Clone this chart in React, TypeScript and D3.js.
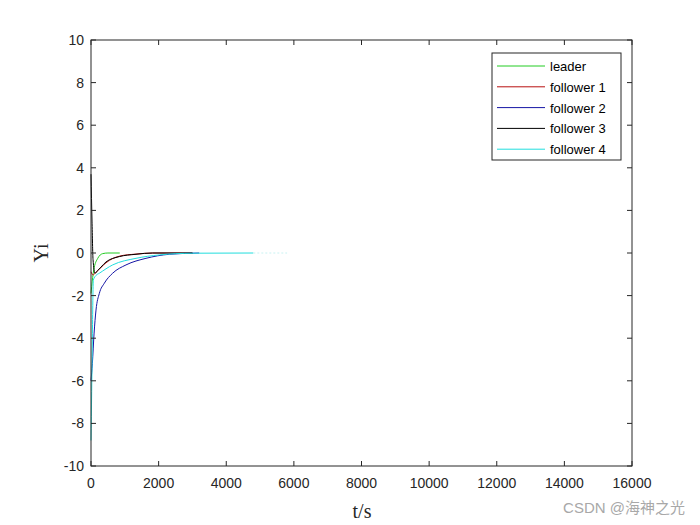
import React from "react";
import * as d3 from "d3";

const xTicks = [0, 2000, 4000, 6000, 8000, 10000, 12000, 14000, 16000];
const yTicks = [-10, -8, -6, -4, -2, 0, 2, 4, 6, 8, 10];

const leaderT = [0, 20, 80, 200, 345, 500, 850];
const leaderY = [-1.9, -1.58, -0.8, -0.25, -0.03, 0, 0];

const f1T = [0, 60, 150, 296, 444, 837, 1331, 1825, 3000];
const f1Y = [-0.88, -1.03, -0.9, -0.68, -0.46, -0.15, -0.05, 0, 0];

const f2T = [0, 40, 90, 148, 246, 394, 640, 1035, 1626, 2316, 3200];
const f2Y = [-6.0, -5.2, -3.8, -2.68, -1.9, -1.42, -0.95, -0.56, -0.25, -0.06, 0];

const f3T = [0, 30, 60, 118, 200, 296, 444, 837, 1331, 1825, 3000];
const f3Y = [3.7, 1.5, -0.3, -0.95, -0.82, -0.66, -0.42, -0.17, -0.06, 0, 0];

const f4T = [0, 20, 40, 69, 150, 246, 640, 1331, 2020, 3000, 4800];
const f4Y = [-8.8, -6.5, -4, -1.27, -1.05, -0.95, -0.56, -0.25, -0.09, -0.01, 0];
const f4TailT = [4800, 5800];
const f4TailY = [0, 0];

const seriesNames = ["leader", "follower 1", "follower 2", "follower 3", "follower 4"];
const seriesColors = ["#22cc22", "#b81010", "#1515a5", "#000000", "#20dede"];

const W = 700;
const H = 525;
const left = 91;
const right = 632;
const top = 40;
const bottom = 466;

export default function App() {
  const x = d3.scaleLinear().domain([0, 16000]).range([left, right]);
  const y = d3.scaleLinear().domain([-10, 10]).range([bottom, top]);
  const line = d3
    .line<[number, number]>()
    .x((d) => x(d[0]))
    .y((d) => y(d[1]))
    .curve(d3.curveMonotoneX);

  const series = [
    [leaderT, leaderY],
    [f1T, f1Y],
    [f2T, f2Y],
    [f3T, f3Y],
    [f4T, f4Y],
  ].map(([ts, vs]) => ts.map((t, i) => [t, vs[i]] as [number, number]));
  const tail = f4TailT.map((t, i) => [t, f4TailY[i]] as [number, number]);

  const axisColor = "#262626";
  const font = "'Liberation Sans', Arial, sans-serif";
  const tl = 5;

  const legX = 492;
  const legY = 53;
  const legW = 129;
  const legH = 107;

  return (
    <svg
      width={W}
      height={H}
      style={{ position: "absolute", left: 0, top: 0, background: "#fff" }}
    >
      <rect x={0} y={0} width={W} height={H} fill="#fff" />
      <g>
        {series.map((d, i) => (
          <path
            key={i}
            d={line(d) || ""}
            fill="none"
            stroke={seriesColors[i]}
            strokeWidth={1}
          />
        ))}
        <path
          d={line(tail) || ""}
          fill="none"
          stroke="#c8f2f2"
          strokeWidth={1}
          strokeDasharray="2,2"
        />
      </g>
      <rect
        x={left}
        y={top}
        width={right - left}
        height={bottom - top}
        fill="none"
        stroke={axisColor}
        strokeWidth={1}
      />
      {xTicks.map((t) => (
        <g key={"x" + t}>
          <line x1={x(t)} x2={x(t)} y1={bottom} y2={bottom - tl} stroke={axisColor} />
          <line x1={x(t)} x2={x(t)} y1={top} y2={top + tl} stroke={axisColor} />
          <text
            x={x(t)}
            y={bottom + 22}
            textAnchor="middle"
            fontFamily={font}
            fontSize={14}
            fill={axisColor}
          >
            {t}
          </text>
        </g>
      ))}
      {yTicks.map((t) => (
        <g key={"y" + t}>
          <line x1={left} x2={left + tl} y1={y(t)} y2={y(t)} stroke={axisColor} />
          <line x1={right} x2={right - tl} y1={y(t)} y2={y(t)} stroke={axisColor} />
          <text
            x={left - 7}
            y={y(t) + 5}
            textAnchor="end"
            fontFamily={font}
            fontSize={14}
            fill={axisColor}
          >
            {t}
          </text>
        </g>
      ))}
      <text
        x={362}
        y={518}
        textAnchor="middle"
        fontFamily="'Liberation Serif', 'Times New Roman', serif"
        fontSize={20}
        fill={axisColor}
      >
        t/s
      </text>
      <text
        transform={`translate(48, ${y(0)}) rotate(-90)`}
        textAnchor="middle"
        fontFamily="'Liberation Serif', 'Times New Roman', serif"
        fontSize={20}
        fill={axisColor}
      >
        Yi
      </text>
      <rect x={legX} y={legY} width={legW} height={legH} fill="#fff" stroke={axisColor} strokeWidth={1} />
      {seriesNames.map((n, i) => {
        const yy = legY + 13 + i * 20.8;
        return (
          <g key={n}>
            <line x1={legX + 5} x2={legX + 53} y1={yy} y2={yy} stroke={seriesColors[i]} strokeWidth={1} />
            <text x={legX + 58} y={yy + 5} fontFamily={font} fontSize={13} fill="#000">
              {n}
            </text>
          </g>
        );
      })}
      <text
        x={685}
        y={513}
        textAnchor="end"
        fontFamily="'Liberation Sans', 'Noto Sans CJK SC', sans-serif"
        fontSize={15}
        fill="#a8a8a8"
      >
        CSDN @海神之光
      </text>
    </svg>
  );
}
